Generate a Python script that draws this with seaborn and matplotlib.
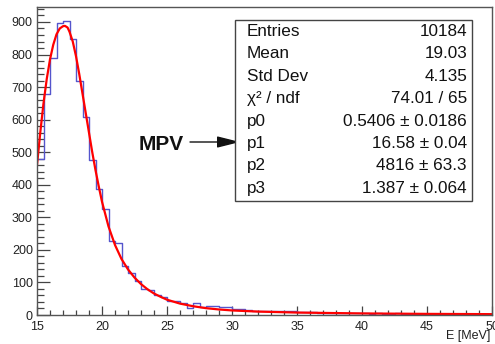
import numpy as np
import pandas as pd
import matplotlib
matplotlib.use("Agg")
import matplotlib.pyplot as plt
import seaborn as sns
from matplotlib.patches import Rectangle
from matplotlib.ticker import MultipleLocator

# ---------------- data ----------------
bin_width = 0.5
bin_low = 15.0
bin_high = 50.0
counts = [479, 679, 789, 897, 904, 847, 720, 608, 476, 388,
          325, 227, 220, 151, 128, 103, 79, 78, 61, 54,
          43, 43, 36, 20, 38, 26, 28, 27, 25, 25,
          19, 17, 14, 13, 12, 13, 12, 11, 12, 11,
          9, 8, 8, 7, 7, 6, 6, 6, 5, 6,
          5, 4, 5, 4, 4, 5, 4, 3, 4, 3,
          3, 3, 3, 2, 3, 2, 3, 2, 2, 3]

fit_x = [15.0, 15.25, 15.5, 15.75, 16.0, 16.25, 16.5, 16.75, 17.0, 17.15,
         17.35, 17.5, 17.75, 18.0, 18.25, 18.5, 18.75, 19.0, 19.25, 19.5,
         19.75, 20.0, 20.5, 21.0, 21.5, 22.0, 22.5, 23.0, 23.5, 24.0,
         24.5, 25.0, 26.0, 27.0, 28.0, 29.0, 30.0, 32.0, 35.0, 40.0,
         45.0, 50.0]
fit_y = [460, 560, 650, 725, 785, 830, 862, 880, 887, 888,
         883, 870, 840, 795, 740, 680, 620, 560, 500, 445,
         395, 348, 272, 215, 172, 140, 115, 95, 79, 66,
         56, 47, 35, 27, 21, 17, 14, 10.5, 7.5, 4.8,
         3.4, 2.6]

stat_names = ["Entries", "Mean", "Std Dev", "\u03c7\u00b2 / ndf", "p0", "p1", "p2", "p3"]
stat_values = ["10184", "19.03", "4.135", "74.01 / 65",
               "0.5406 \u00b1 0.0186", "16.58 \u00b1 0.04",
               "4816 \u00b1 63.3", "1.387 \u00b1 0.064"]

x_label = "E [MeV]"
annot_text = "MPV"

# ---------------- style ----------------
sns.set_theme(style="white")
plt.rcParams["font.family"] = ["Liberation Sans", "DejaVu Sans"]

W, H = 495, 344
fig = plt.figure(figsize=(W / 100, H / 100), dpi=100)
fig.patch.set_facecolor("white")

L, R, T, B = 37, 492, 7, 315
ax = fig.add_axes([L / W, 1 - B / H, (R - L) / W, (B - T) / H])
ax.set_facecolor("white")

n_bins = len(counts)
centers = bin_low + bin_width * (np.arange(n_bins) + 0.5)
df_hist = pd.DataFrame({"E": centers, "n": np.asarray(counts, dtype=float)})
df_fit = pd.DataFrame({"E": fit_x, "f": fit_y})

sns.histplot(data=df_hist, x="E", weights="n", binwidth=bin_width,
             binrange=(bin_low, bin_high), element="step",
             fill=False, color="#5555cc", linewidth=1.0, ax=ax)
sns.lineplot(data=df_fit, x="E", y="f", color="#ff0000", linewidth=1.6, ax=ax)

ax.set_xlim(15, 50)
ax.set_ylim(0, 946)
ax.set_xlabel("")
ax.set_ylabel("")

ax.xaxis.set_major_locator(MultipleLocator(5))
ax.xaxis.set_minor_locator(MultipleLocator(1))
ax.yaxis.set_major_locator(MultipleLocator(100))
ax.yaxis.set_minor_locator(MultipleLocator(20))

tick_col = "#444444"
ax.tick_params(axis="y", which="major", direction="in", length=9.5, width=0.9,
               color=tick_col, labelsize=9, pad=3, labelcolor="#222222")
ax.tick_params(axis="y", which="minor", direction="in", length=5, width=0.9,
               color=tick_col)
ax.tick_params(axis="x", which="major", direction="in", length=6.5, width=0.9,
               color=tick_col, labelsize=9, pad=4, labelcolor="#222222")
ax.tick_params(axis="x", which="minor", direction="in", length=3.3, width=0.9,
               color=tick_col)
ax.tick_params(left=True, bottom=True, right=False, top=False)
ax.tick_params(which="minor", left=True, bottom=True, right=False, top=False)

for s in ax.spines.values():
    s.set_visible(True)
    s.set_color("#555555")
    s.set_linewidth(1.0)

fig.text(490 / W, 1 - 336 / H, x_label, ha="right", va="center",
         fontsize=9, color="#222222")

# ---------------- stats box ----------------
bx0, bx1, by0, by1 = 235, 472, 20, 201
fig.patches.append(Rectangle((bx0 / W, 1 - by1 / H), (bx1 - bx0) / W, (by1 - by0) / H,
                             transform=fig.transFigure, facecolor="white",
                             edgecolor="#444444", linewidth=1.0, zorder=5))
row0, step = 31.5, 22.4
for i, (nm, val) in enumerate(zip(stat_names, stat_values)):
    yy = 1 - (row0 + i * step) / H
    fig.text(247 / W, yy, nm, ha="left", va="center", fontsize=12.3,
             color="#111111", zorder=6)
    fig.text(467 / W, yy, val, ha="right", va="center", fontsize=12.3,
             color="#111111", zorder=6)

# ---------------- MPV annotation ----------------
fig.text(161 / W, 1 - 144 / H, annot_text, ha="center", va="center",
         fontsize=15, fontweight="bold", color="#111111")
ax.annotate("", xy=(240, H - 142), xycoords="figure pixels",
            xytext=(190, H - 142), textcoords="figure pixels",
            arrowprops=dict(arrowstyle="-|>,head_length=1.4,head_width=0.35",
                            mutation_scale=10, color="#111111", lw=1.0,
                            shrinkA=0, shrinkB=0), zorder=7)

fig.savefig("out.png", dpi=100, facecolor="white")
